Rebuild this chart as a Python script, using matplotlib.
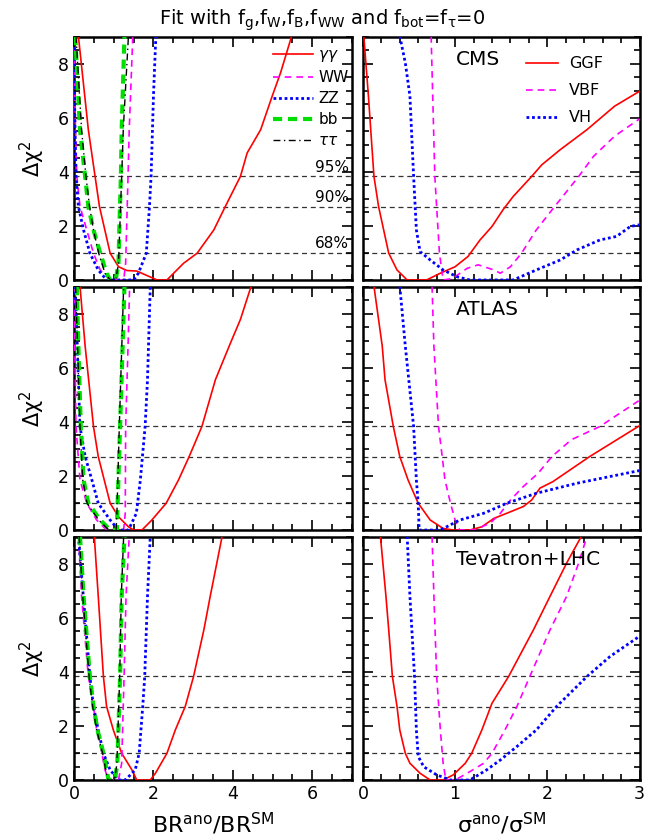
import matplotlib
matplotlib.use('Agg')
import matplotlib.pyplot as plt
from matplotlib.ticker import MultipleLocator

plt.rcParams['font.family'] = ['DejaVu Sans']
plt.rcParams['mathtext.default'] = 'regular'

# ---- left column: BR_ano / BR_SM, channels gg(photon), WW, ZZ, bb, tautau
cms_aa_x = [0.11, 0.36, 0.53, 0.64, 0.91, 1.12, 1.33, 1.58, 2.09, 2.34, 2.76, 3.10, 3.52, 3.81, 4.19, 4.36, 4.70, 4.99, 5.20, 5.48]
cms_aa_y = [9.02, 5.56, 3.83, 2.72, 0.99, 0.49, 0.35, 0.33, 0, 0, 0.62, 0.99, 1.85, 2.72, 3.83, 4.70, 5.56, 6.80, 7.66, 9.02]
cms_ww_x = [0.0, 0.03, 0.07, 0.15, 0.32, 0.49, 0.66, 0.91, 1.25, 1.30, 1.36, 1.39, 1.48]
cms_ww_y = [9.02, 6.0, 3.83, 2.72, 1.85, 0.99, 0.37, 0, 0, 0.62, 3.83, 5.56, 9.02]
cms_zz_x = [0.0, 0.02, 0.05, 0.11, 0.24, 0.40, 0.61, 0.82, 1.50, 1.62, 1.82, 1.90, 1.94, 2.00, 2.06]
cms_zz_y = [9.02, 6.0, 3.83, 2.72, 1.85, 0.99, 0.37, 0, 0, 0.25, 0.99, 2.72, 3.83, 6.80, 9.02]
cms_bb_x = [0.03, 0.15, 0.28, 0.36, 0.49, 0.66, 0.82, 0.91, 1.05, 1.12, 1.14, 1.18, 1.20, 1.27]
cms_bb_y = [9.02, 5.56, 3.83, 2.72, 1.85, 0.99, 0.25, 0, 0, 0.62, 1.85, 3.83, 5.56, 9.02]
cms_tt_x = [0.05, 0.19, 0.30, 0.39, 0.49, 0.62, 0.78, 0.91, 1.05, 1.12, 1.20, 1.24, 1.37]
cms_tt_y = [9.02, 5.56, 3.83, 2.72, 1.85, 0.99, 0.25, 0, 0, 0.62, 3.83, 5.56, 9.02]

atl_aa_x = [0.15, 0.28, 0.49, 0.61, 0.91, 1.12, 1.37, 1.50, 1.71, 1.96, 2.32, 2.63, 2.90, 3.22, 3.56, 3.94, 4.19, 4.46]
atl_aa_y = [9.02, 6.80, 3.83, 2.72, 0.99, 0.49, 0.12, 0, 0, 0.37, 0.99, 1.85, 2.72, 3.83, 5.56, 6.92, 7.79, 9.02]
atl_ww_x = [0.0, 0.05, 0.15, 0.32, 0.57, 0.82, 1.25, 1.29, 1.30, 1.36, 1.40]
atl_ww_y = [9.02, 3.83, 1.85, 0.99, 0.37, 0, 0, 0.62, 3.83, 6.80, 9.02]
atl_zz_x = [0.03, 0.15, 0.28, 0.45, 0.61, 0.91, 1.12, 1.37, 1.57, 1.67, 1.79, 1.85, 1.92]
atl_zz_y = [9.02, 3.83, 2.72, 1.85, 0.99, 0.37, 0, 0, 0.62, 1.85, 3.83, 5.56, 9.02]
atl_bb_x = [0.07, 0.11, 0.17, 0.24, 0.36, 0.66, 0.91, 1.08, 1.09, 1.16, 1.27]
atl_bb_y = [9.02, 6.80, 3.83, 1.85, 0.99, 0.37, 0, 0, 0.62, 3.83, 9.02]
atl_tt_x = [0.04, 0.09, 0.15, 0.22, 0.33, 0.62, 0.88, 1.06, 1.08, 1.14, 1.25]
atl_tt_y = [9.02, 6.80, 3.83, 1.85, 0.99, 0.37, 0, 0, 0.62, 3.83, 9.02]

all_aa_x = [0.51, 0.61, 0.74, 0.82, 0.99, 1.20, 1.46, 1.58, 1.92, 2.05, 2.34, 2.55, 2.80, 3.01, 3.27, 3.43, 3.73]
all_aa_y = [9.02, 6.80, 3.83, 2.72, 1.85, 0.99, 0.37, 0, 0, 0.25, 0.99, 1.85, 2.72, 3.83, 5.56, 6.80, 9.02]
all_ww_x = [0.11, 0.19, 0.36, 0.49, 0.57, 0.70, 0.78, 0.87, 1.12, 1.20, 1.26, 1.31, 1.39]
all_ww_y = [9.02, 6.80, 3.83, 2.72, 1.85, 0.99, 0.37, 0, 0, 0.62, 3.83, 6.80, 9.02]
all_zz_x = [0.11, 0.40, 0.49, 0.61, 0.74, 0.91, 1.12, 1.29, 1.54, 1.64, 1.73, 1.78, 1.85, 1.92]
all_zz_y = [9.02, 3.83, 2.72, 1.85, 0.99, 0.37, 0, 0, 0.37, 0.99, 2.72, 3.83, 6.80, 9.02]
all_bb_x = [0.15, 0.24, 0.40, 0.49, 0.59, 0.74, 0.82, 0.87, 1.03, 1.09, 1.16, 1.20, 1.27]
all_bb_y = [9.02, 6.80, 3.83, 2.72, 1.85, 0.99, 0.37, 0, 0, 0.62, 3.83, 6.80, 9.02]
all_tt_x = [0.13, 0.22, 0.38, 0.47, 0.57, 0.72, 0.80, 0.85, 1.02, 1.08, 1.15, 1.19, 1.25]
all_tt_y = [9.02, 6.80, 3.83, 2.72, 1.85, 0.99, 0.37, 0, 0, 0.62, 3.83, 6.80, 9.02]

# ---- right column: sigma_ano / sigma_SM, production GGF, VBF, VH
cms_ggf_x = [0.01, 0.06, 0.12, 0.17, 0.28, 0.37, 0.48, 0.69, 0.84, 1.00, 1.14, 1.27, 1.40, 1.52, 1.63, 1.83, 1.94, 2.14, 2.43, 2.73, 3.0]
cms_ggf_y = [9.02, 6.80, 3.83, 2.72, 0.99, 0.37, 0, 0, 0.25, 0.49, 0.87, 1.48, 1.98, 2.60, 3.09, 3.83, 4.26, 4.82, 5.56, 6.43, 6.98]
cms_vbf_x = [0.74, 0.78, 0.83, 0.87, 0.97, 1.13, 1.25, 1.42, 1.49, 1.60, 1.72, 1.88, 2.08, 2.34, 2.50, 2.73, 3.0]
cms_vbf_y = [9.02, 3.83, 0.99, 0, 0.05, 0.43, 0.56, 0.37, 0.25, 0.49, 0.99, 1.85, 2.72, 3.83, 4.57, 5.32, 5.96]
cms_vh_x = [0.40, 0.46, 0.51, 0.55, 0.58, 0.62, 0.73, 0.87, 1.02, 1.16, 1.63, 1.88, 2.14, 2.32, 2.57, 2.75, 2.90, 3.0]
cms_vh_y = [9.02, 8.03, 6.80, 3.83, 1.85, 1.05, 0.74, 0.37, 0.12, 0, 0, 0.37, 0.74, 1.11, 1.48, 1.61, 1.98, 2.04]

atl_ggf_x = [0.12, 0.21, 0.24, 0.33, 0.40, 0.49, 0.60, 0.73, 0.87, 0.98, 1.16, 1.29, 1.42, 1.56, 1.74, 1.83, 1.92, 2.06, 2.46, 3.0]
atl_ggf_y = [9.02, 6.80, 5.56, 3.83, 2.72, 1.85, 0.99, 0.37, 0.06, 0, 0, 0.12, 0.43, 0.62, 0.87, 1.11, 1.55, 1.79, 2.72, 3.86]
atl_vbf_x = [0.75, 0.77, 0.82, 0.86, 0.89, 0.95, 1.00, 1.05, 1.20, 1.38, 1.49, 1.60, 1.74, 1.90, 2.05, 2.26, 2.57, 2.79, 3.0]
atl_vbf_y = [9.02, 6.80, 3.83, 2.72, 1.85, 0.99, 0.37, 0, 0, 0.25, 0.62, 1.11, 1.61, 2.10, 2.72, 3.34, 3.83, 4.33, 4.80]
atl_vh_x = [0.40, 0.46, 0.55, 0.58, 0.60, 0.61, 0.84, 1.05, 1.31, 1.56, 1.88, 2.32, 2.68, 3.0]
atl_vh_y = [9.02, 6.80, 3.83, 1.85, 0.99, 0, 0, 0.37, 0.62, 0.99, 1.36, 1.73, 1.98, 2.20]

all_ggf_x = [0.19, 0.25, 0.28, 0.32, 0.37, 0.40, 0.46, 0.51, 0.62, 0.73, 0.87, 0.98, 1.11, 1.18, 1.29, 1.40, 1.58, 1.85, 2.03, 2.21, 2.37]
all_ggf_y = [9.02, 6.80, 5.56, 3.83, 2.72, 1.85, 0.99, 0.62, 0.25, 0, 0, 0.19, 0.62, 0.99, 1.85, 2.84, 3.83, 5.56, 6.80, 8.03, 9.02]
all_vbf_x = [0.75, 0.77, 0.80, 0.84, 0.87, 0.90, 1.0, 1.13, 1.31, 1.40, 1.54, 1.67, 1.81, 2.03, 2.21, 2.34, 2.43]
all_vbf_y = [9.02, 6.80, 3.83, 1.85, 0.62, 0, 0, 0.25, 0.62, 0.99, 1.85, 2.72, 3.83, 5.56, 6.80, 8.03, 9.02]
all_vh_x = [0.48, 0.51, 0.56, 0.58, 0.60, 0.66, 0.80, 0.95, 1.16, 1.34, 1.49, 1.67, 1.88, 2.10, 2.43, 2.68, 3.0]
all_vh_y = [9.02, 6.80, 3.83, 1.85, 0.87, 0.49, 0.19, 0, 0, 0.37, 0.74, 1.24, 1.85, 2.72, 3.83, 4.57, 5.32]

cl_levels = [3.84, 2.71, 1.0]
cl_labels = ['95%', '90%', '68%']
decay_names = [r'$\mathit{\gamma\gamma}$', 'WW', 'ZZ', 'bb', r'$\mathit{\tau\tau}$']
prod_names = ['GGF', 'VBF', 'VH']
exp_names = ['CMS', 'ATLAS', 'Tevatron+LHC']

decay_style = [dict(color='#ff0000', lw=1.2, ls='-'),
               dict(color='#ff00ff', lw=1.2, ls=(0, (4, 3))),
               dict(color='#0000ff', lw=2.0, ls=(0, (1, 1))),
               dict(color='#00e000', lw=3.0, ls=(0, (2.2, 1.4))),
               dict(color='black', lw=1.0, ls=(0, (5, 2.5, 1, 2.5)))]
prod_style = decay_style[:3]

left_data = [
    [(cms_aa_x, cms_aa_y), (cms_ww_x, cms_ww_y), (cms_zz_x, cms_zz_y), (cms_bb_x, cms_bb_y), (cms_tt_x, cms_tt_y)],
    [(atl_aa_x, atl_aa_y), (atl_ww_x, atl_ww_y), (atl_zz_x, atl_zz_y), (atl_bb_x, atl_bb_y), (atl_tt_x, atl_tt_y)],
    [(all_aa_x, all_aa_y), (all_ww_x, all_ww_y), (all_zz_x, all_zz_y), (all_bb_x, all_bb_y), (all_tt_x, all_tt_y)],
]
right_data = [
    [(cms_ggf_x, cms_ggf_y), (cms_vbf_x, cms_vbf_y), (cms_vh_x, cms_vh_y)],
    [(atl_ggf_x, atl_ggf_y), (atl_vbf_x, atl_vbf_y), (atl_vh_x, atl_vh_y)],
    [(all_ggf_x, all_ggf_y), (all_vbf_x, all_vbf_y), (all_vh_x, all_vh_y)],
]


def style_axes(ax, xmax, xmaj, xmin):
    ax.set_ylim(0, 9)
    ax.set_xlim(0, xmax)
    ax.xaxis.set_major_locator(MultipleLocator(xmaj))
    ax.xaxis.set_minor_locator(MultipleLocator(xmin))
    ax.yaxis.set_major_locator(MultipleLocator(2))
    ax.yaxis.set_minor_locator(MultipleLocator(0.5))
    ax.tick_params(which='both', direction='in', top=True, right=True, labelsize=12.5, width=1.2)
    ax.tick_params(which='major', length=7)
    ax.tick_params(which='minor', length=4)
    for s in ax.spines.values():
        s.set_linewidth(1.8)
    for lev in cl_levels:
        ax.axhline(lev, color='#333333', lw=0.9, ls=(0, (4, 3)), zorder=1)


fig = plt.figure(figsize=(6.58, 8.4), dpi=100)
row_bottoms = [0.6667, 0.369, 0.0714]
h = 0.2897

for r in range(3):
    axl = fig.add_axes([0.1125, row_bottoms[r], 0.4225, h])
    axr = fig.add_axes([0.5515, row_bottoms[r], 0.4205, h])
    style_axes(axl, 7, 2, 0.5)
    style_axes(axr, 3, 1, 0.2)
    for (xs, ys), st, nm in zip(left_data[r], decay_style, decay_names):
        axl.plot(xs, ys, label=nm, zorder=3, **st)
    for (xs, ys), st, nm in zip(right_data[r], prod_style, prod_names):
        axr.plot(xs, ys, label=nm, zorder=3, **st)
    axl.set_ylabel(r'$\Delta\chi^2$', fontsize=15, labelpad=8)
    axr.set_yticklabels([])
    if r < 2:
        axl.set_xticklabels([])
        axr.set_xticklabels([])
    axr.text(0.335, 0.945, exp_names[r], transform=axr.transAxes, fontsize=14.5,
             va='top', ha='left')
    if r == 0:
        axl.legend(loc='upper left', bbox_to_anchor=(0.705, 0.97), frameon=False,
                   fontsize=11, handlelength=2.6, handletextpad=0.35,
                   labelspacing=0.4, borderaxespad=0.0, borderpad=0.2)
        axr.legend(loc='upper left', bbox_to_anchor=(0.565, 0.945), frameon=False,
                   fontsize=11.5, handlelength=2.0, handletextpad=0.7,
                   labelspacing=0.75, borderaxespad=0.0)
        for lev, lab in zip(cl_levels, cl_labels):
            axl.text(6.93, lev + 0.06, lab, fontsize=11, ha='right', va='bottom')
    if r == 2:
        axl.set_xlabel(r'BR$^{ano}$/BR$^{SM}$', fontsize=16, labelpad=6)
        axr.set_xlabel(r'$\sigma^{ano}/\sigma^{SM}$', fontsize=16, labelpad=6)

fig.text(0.49, 0.976, r'Fit with f$_{g}$,f$_{W}$,f$_{B}$,f$_{WW}$ and f$_{bot}$=f$_{\tau}$=0',
         ha='center', va='center', fontsize=14)

fig.savefig('out.png', dpi=100)
